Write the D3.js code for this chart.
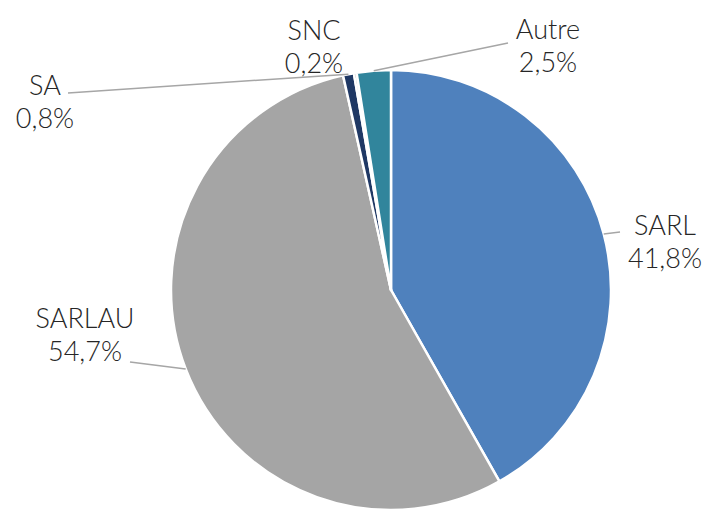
<!DOCTYPE html>
<html>
<head>
<meta charset="utf-8">
<script src="https://cdn.jsdelivr.net/npm/d3@7"></script>
<style>
  body { margin: 0; background: #fff; }
  text { font-family: Lato, "Open Sans", sans-serif; font-weight: 300; fill: #262626; }
</style>
</head>
<body>
<div id="chart"></div>
<script>
// data
const categories = ["SARL", "SARLAU", "SA", "SNC", "Autre"];
const shares = [41.8, 54.7, 0.8, 0.2, 2.5];
const shareLabels = ["41,8%", "54,7%", "0,8%", "0,2%", "2,5%"];
const colors = ["#4f81bd", "#a5a5a5", "#1f3864", "#7f7f7f", "#31859c"];

// label layout: text centre, first baseline, leader end (null = no leader)
const labelLayout = [
    { x: 665, y: 235, lx: 620, ly: 232 },
    { x: 85, y: 328, lx: 130, ly: 362 },
    { x: 45, y: 95, lx: 68, ly: 93 },
    { x: 314, y: 40, lx: null, ly: null },
    { x: 548, y: 39, lx: 508, ly: 43 }
];

const width = 709, height = 512;
const cx = 391, cy = 290, radius = 220;

const svg = d3.select("#chart").append("svg")
    .attr("width", width)
    .attr("height", height);

const g = svg.append("g").attr("transform", "translate(" + cx + "," + cy + ")");

const pie = d3.pie().sort(null).value(d => d);
const arcs = pie(shares);

const arc = d3.arc().innerRadius(0).outerRadius(radius);
const edge = d3.arc().innerRadius(radius).outerRadius(radius);

g.selectAll("path.slice")
    .data(arcs)
    .enter()
    .append("path")
    .attr("class", "slice")
    .attr("d", arc)
    .attr("fill", (d, i) => colors[i])
    .attr("stroke", "#fff")
    .attr("stroke-width", 2.5)
    .attr("stroke-linejoin", "round");

// leader lines from slice edge to label
arcs.forEach(function(d, i) {
    const lay = labelLayout[i];
    if (lay.lx === null) return;
    const p = edge.centroid(d);
    svg.append("line")
        .attr("x1", p[0] + cx)
        .attr("y1", p[1] + cy)
        .attr("x2", lay.lx)
        .attr("y2", lay.ly)
        .attr("stroke", "#a6a6a6")
        .attr("stroke-width", 1.5);
});

// labels
categories.forEach(function(c, i) {
    const lay = labelLayout[i];
    const t = svg.append("text")
        .attr("text-anchor", "middle")
        .style("font-size", "27px");
    t.append("tspan").attr("x", lay.x).attr("y", lay.y).text(c);
    t.append("tspan").attr("x", lay.x).attr("y", lay.y + 33).text(shareLabels[i]);
});
</script>
</body>
</html>
